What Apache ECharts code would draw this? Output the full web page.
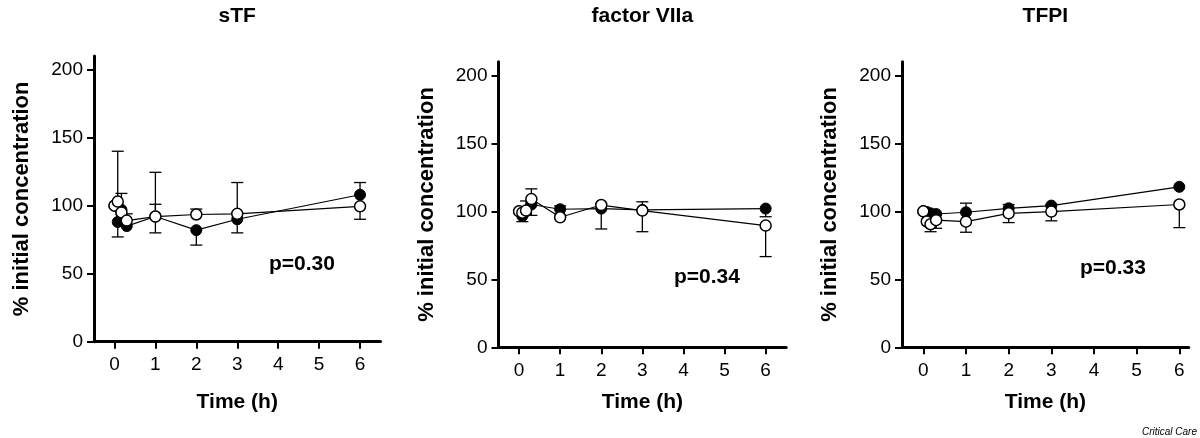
<!DOCTYPE html>
<html>
<head>
<meta charset="utf-8">
<script src="https://cdn.jsdelivr.net/npm/echarts@6/dist/echarts.min.js"></script>
<style>html,body{margin:0;padding:0;background:#fff}#c{width:1200px;height:438px}</style>
</head>
<body>
<div id="c"></div>
<script>
// ---- data ----
const times = [0, 0.08, 0.17, 0.3, 1, 2, 3, 6];
const xTicks = [0, 1, 2, 3, 4, 5, 6];
const yTicks = [0, 50, 100, 150, 200];
const panelTitles = ['sTF', 'factor VIIa', 'TFPI'];
const pValues = ['p=0.30', 'p=0.34', 'p=0.33'];

const sTF_filled     = [100, 88, 97, 85, 92, 82, 90, 108];
const sTF_filledHigh = [null, null, 109, null, 101, null, null, 117];
const sTF_filledLow  = [null, 77, null, null, 80, 71, 80, null];
const sTF_open       = [100, 103, 95, 89, 92, 93.5, 94, 99.5];
const sTF_openHigh   = [null, 140, null, 94, 124.5, 97.5, 117, null];
const sTF_openLow    = [null, null, null, null, null, null, null, 90];

const VIIa_filled     = [100, 96.5, 100, 105, 101.5, 102, 101, 102];
const VIIa_filledHigh = [null, null, null, null, 104, null, 107, null];
const VIIa_filledLow  = [null, 92.4, null, 97, null, 87, null, 96];
const VIIa_open       = [100, 99, 100.5, 109, 95.6, 104.6, 100.5, 89.5];
const VIIa_openHigh   = [null, null, 107.6, 116.5, null, null, null, null];
const VIIa_openLow    = [null, null, null, null, null, null, 85, 66.7];

const TFPI_filled     = [100, 99.5, 98.5, 98, 99.3, 102.2, 104.2, 118];
const TFPI_filledHigh = [null, null, null, null, 106, 105, 105, null];
const TFPI_filledLow  = [null, null, null, null, null, null, null, null];
const TFPI_open       = [100, 92.5, 90.5, 93.5, 92.4, 98.5, 99.8, 105];
const TFPI_openHigh   = [null, null, null, null, null, null, null, null];
const TFPI_openLow    = [null, null, 85, 87.5, 84.6, 91.7, 93, 88];

const panels = [
  {filled: sTF_filled, fH: sTF_filledHigh, fL: sTF_filledLow, open: sTF_open, oH: sTF_openHigh, oL: sTF_openLow},
  {filled: VIIa_filled, fH: VIIa_filledHigh, fL: VIIa_filledLow, open: VIIa_open, oH: VIIa_openHigh, oL: VIIa_openLow},
  {filled: TFPI_filled, fH: TFPI_filledHigh, fL: TFPI_filledLow, open: TFPI_open, oH: TFPI_openHigh, oL: TFPI_openLow}
];

// ---- layout ----
const FONT = "'Liberation Sans', Arial, Helvetica, sans-serif";
const grids = [
  {left: 94, top: 56, width: 286.5, height: 285.7, xMax: 6.5, nameGapX: 50},
  {left: 498.5, top: 61.7, width: 287.7, height: 285.6, xMax: 6.5, nameGapX: 44.5},
  {left: 902, top: 61.7, width: 286.7, height: 285.6, xMax: 6.22, nameGapX: 44.5}
];
const pPos = [[302, 264], [707, 277], [1113, 268]];

function pairs(vals) { return times.map((t, i) => [t, vals[i]]); }
function errData(base, ends) {
  const out = [];
  ends.forEach((e, i) => { if (e !== null && e !== undefined) out.push([times[i], base[i], e]); });
  return out;
}
function errRender(params, api) {
  const x = api.value(0);
  const p0 = api.coord([x, api.value(1)]);
  const p1 = api.coord([x, api.value(2)]);
  const st = {stroke: '#000', lineWidth: 1.3};
  return {type: 'group', children: [
    {type: 'line', shape: {x1: p0[0], y1: p0[1], x2: p1[0], y2: p1[1]}, style: st},
    {type: 'line', shape: {x1: p1[0] - 6, y1: p1[1], x2: p1[0] + 6, y2: p1[1]}, style: st}
  ]};
}

const option = {
  animation: false,
  backgroundColor: '#fff',
  grid: grids.map(g => ({left: g.left, top: g.top, width: g.width, height: g.height, containLabel: false})),
  xAxis: grids.map((g, i) => ({
    type: 'value', gridIndex: i, min: -0.5, max: g.xMax,
    name: 'Time (h)', nameLocation: 'middle', nameGap: g.nameGapX,
    nameTextStyle: {fontFamily: FONT, fontWeight: 'bold', fontSize: 21, color: '#000'},
    axisLine: {show: true, onZero: false, lineStyle: {color: '#000', width: 3}},
    axisTick: {show: true, length: 7, lineStyle: {color: '#000', width: 2}, customValues: xTicks},
    axisLabel: {show: true, margin: 14, fontFamily: FONT, fontSize: 19, color: '#000', customValues: xTicks},
    splitLine: {show: false}
  })),
  yAxis: grids.map((g, i) => ({
    type: 'value', gridIndex: i, min: 0, max: 210,
    name: '% initial concentration', nameLocation: 'middle', nameGap: 61, nameRotate: 90,
    nameTextStyle: {fontFamily: FONT, fontWeight: 'bold', fontSize: 22, color: '#000'},
    axisLine: {show: true, onZero: false, lineStyle: {color: '#000', width: 3}},
    axisTick: {show: true, length: 7, lineStyle: {color: '#000', width: 2}, customValues: yTicks},
    axisLabel: {show: true, margin: 11, fontFamily: FONT, fontSize: 19, color: '#000', customValues: yTicks},
    splitLine: {show: false}
  })),
  series: [],
  graphic: []
};

panels.forEach((p, i) => {
  option.series.push({
    type: 'custom', xAxisIndex: i, yAxisIndex: i, renderItem: errRender,
    encode: {x: 0, y: [1, 2]}, z: 1, silent: true,
    data: errData(p.filled, p.fH).concat(errData(p.filled, p.fL), errData(p.open, p.oH), errData(p.open, p.oL))
  });
  option.series.push({
    type: 'line', xAxisIndex: i, yAxisIndex: i, data: pairs(p.filled), z: 2,
    symbol: 'circle', symbolSize: 11, showAllSymbol: true,
    lineStyle: {color: '#000', width: 1.2},
    itemStyle: {color: '#000', borderColor: '#000', borderWidth: 1}
  });
  option.series.push({
    type: 'line', xAxisIndex: i, yAxisIndex: i, data: pairs(p.open), z: 3,
    symbol: 'circle', symbolSize: 11, showAllSymbol: true,
    lineStyle: {color: '#000', width: 1.2},
    itemStyle: {color: '#fff', borderColor: '#000', borderWidth: 1.5}
  });
  const g = grids[i];
  option.graphic.push({
    type: 'text', x: g.left + g.width / 2, y: 16,
    style: {text: panelTitles[i], fontFamily: FONT, fontWeight: 'bold', fontSize: 21, fill: '#000', textAlign: 'center', textVerticalAlign: 'middle'}
  });
  option.graphic.push({
    type: 'text', x: pPos[i][0], y: pPos[i][1],
    style: {text: pValues[i], fontFamily: FONT, fontWeight: 'bold', fontSize: 21, fill: '#000', textAlign: 'center', textVerticalAlign: 'middle'}
  });
});
option.graphic.push({
  type: 'text', x: 1197, y: 432,
  style: {text: 'Critical Care', fontFamily: FONT, fontStyle: 'italic', fontSize: 10, fill: '#000', textAlign: 'right', textVerticalAlign: 'middle'}
});

const chart = echarts.init(document.getElementById('c'), null, {renderer: 'canvas'});
chart.setOption(option);
</script>
</body>
</html>
